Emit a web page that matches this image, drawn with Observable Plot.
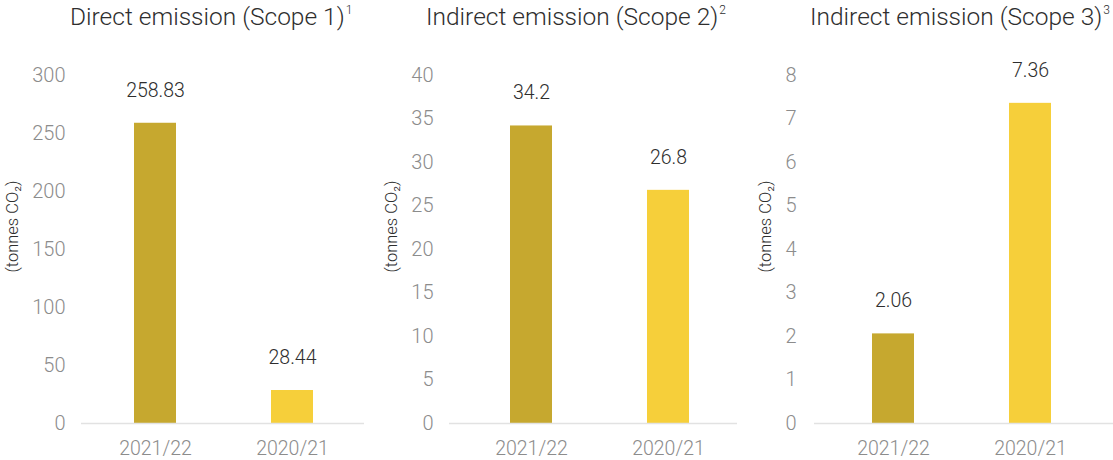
<!DOCTYPE html>
<html>
<head>
<meta charset="utf-8">
<script src="https://cdn.jsdelivr.net/npm/d3@7"></script>
<script src="https://cdn.jsdelivr.net/npm/@observablehq/plot@0.6"></script>
<style>
  html, body { margin: 0; padding: 0; background: #fff; }
  body { font-family: Roboto, "Helvetica Neue", Arial, sans-serif; font-weight: 300; }
  #wrap { display: flex; width: 1113px; }
  .panel { position: relative; width: 371px; }
  .title { position: relative; height: 40px; }
  .title span.t { position: absolute; top: 5px; font-size: 24.5px; line-height: 24px; color: #2e2e2e; font-weight: 300; white-space: nowrap; }
  .title sup { font-size: 12px; vertical-align: 0; position: relative; top: -11px; margin-left: 1px; }
  svg { display: block; font-family: Roboto, "Helvetica Neue", Arial, sans-serif; font-weight: 300; }
</style>
</head>
<body>
<div id="wrap"></div>
<script>
// ---- data ----
const periods = ["2021/22", "2020/21"];
const scope1 = [258.83, 28.44];
const scope2 = [34.2, 26.8];
const scope3 = [2.06, 7.36];
const titles = ["Direct emission (Scope 1)", "Indirect emission (Scope 2)", "Indirect emission (Scope 3)"];
const footnotes = ["1", "2", "3"];
const yTicks1 = [0, 50, 100, 150, 200, 250, 300];
const yTicks2 = [0, 5, 10, 15, 20, 25, 30, 35, 40];
const yTicks3 = [0, 1, 2, 3, 4, 5, 6, 7, 8];
const yLabel = "(tonnes CO\u2082)";
const barColors = ["#C6A82F", "#F6CF3A"];

// ---- layout ----
const panels = [
  {values: scope1, ticks: yTicks1, max: 300, ml: 81, mr: 7, align: 0.51, titleLeft: 70, labDx: -68.5, tickPad: 16},
  {values: scope2, ticks: yTicks2, max: 40, ml: 78, mr: 5, align: 0.56, titleLeft: 55, labDx: -57.5, tickPad: 16},
  {values: scope3, ticks: yTicks3, max: 8, ml: 72, mr: 0, align: 0.48, titleLeft: 68, labDx: -49, tickPad: 18}
];

const W = 371, H = 420, MT = 35, MB = 37;
const step = 137, pInner = 0.693;
const wrap = document.getElementById("wrap");

panels.forEach((p, i) => {
  const data = periods.map((period, j) => ({period, value: p.values[j]}));
  const range = W - p.ml - p.mr;
  const pOuter = (range / step - 2 + pInner) / 2;

  const div = document.createElement("div");
  div.className = "panel";
  const t = document.createElement("div");
  t.className = "title";
  const span = document.createElement("span");
  span.className = "t";
  span.style.left = p.titleLeft + "px";
  span.textContent = titles[i];
  const sup = document.createElement("sup");
  sup.textContent = footnotes[i];
  span.appendChild(sup);
  t.appendChild(span);
  div.appendChild(t);

  const chart = Plot.plot({
    width: W,
    height: H,
    marginTop: MT,
    marginBottom: MB,
    marginLeft: p.ml,
    marginRight: p.mr,
    x: {domain: periods, paddingInner: pInner, paddingOuter: pOuter, align: p.align},
    y: {domain: [0, p.max]},
    color: {domain: periods, range: barColors},
    marks: [
      Plot.barY(data, {x: "period", y: "value", fill: "period"}),
      Plot.ruleY([0], {stroke: "#e2e2e2", strokeWidth: 1.5}),
      Plot.axisY({ticks: p.ticks, tickSize: 0, tickPadding: p.tickPad, fontSize: 20, fill: "#8c8c8c", label: null, tickFormat: d => String(d)}),
      Plot.axisX({tickSize: 0, tickPadding: 18, fontSize: 19.5, fill: "#8c8c8c", label: null}),
      Plot.text(data, {x: "period", y: "value", text: d => String(d.value), dy: -33, fontSize: 19.5, fill: "#2e2e2e"}),
      Plot.text([yLabel], {frameAnchor: "left", textAnchor: "middle", rotate: -90, dx: p.labDx, dy: -23, fontSize: 16.5, fill: "#2e2e2e"})
    ]
  });
  div.appendChild(chart);
  wrap.appendChild(div);
});
</script>
</body>
</html>
